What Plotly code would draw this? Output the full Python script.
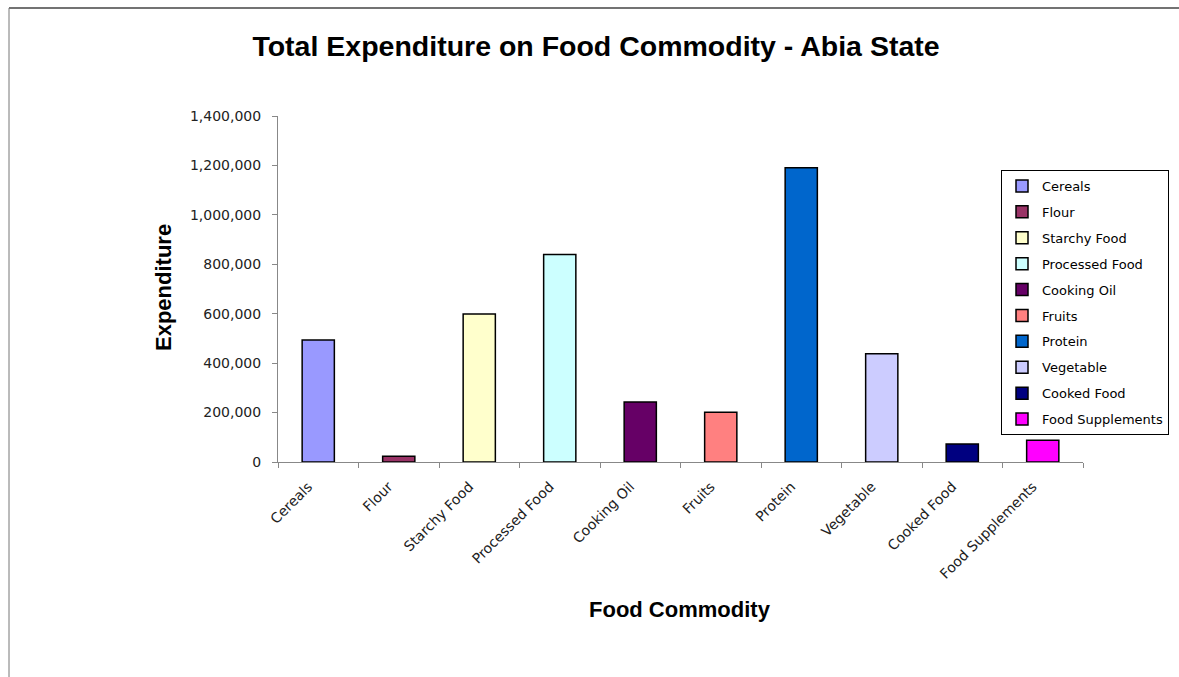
import plotly.graph_objects as go

# Food commodity expenditure, Abia State
categories = ["Cereals", "Flour", "Starchy Food", "Processed Food", "Cooking Oil",
              "Fruits", "Protein", "Vegetable", "Cooked Food", "Food Supplements"]
expenditure = [494000, 23000, 599000, 840000, 243000,
               201000, 1191000, 438000, 73000, 88000]
bar_colors = ["#9999FF", "#993366", "#FFFFCC", "#CCFFFF", "#660066",
              "#FF8080", "#0066CC", "#CCCCFF", "#000080", "#FF00FF"]
y_ticks = [0, 200000, 400000, 600000, 800000, 1000000, 1200000, 1400000]

W, H = 1179, 677
L, R, T, B = 278, 96, 116, 215
pw, ph = W - L - R, H - T - B


def px_x(x):
    return (x - L) / pw


def px_y(y):
    return (H - B - y) / ph


fig = go.Figure()
for i, (cat, val, col) in enumerate(zip(categories, expenditure, bar_colors)):
    fig.add_trace(go.Bar(
        x=[cat], y=[val], name=cat, width=0.4,
        marker=dict(color=col, line=dict(color="#000000", width=1.5)),
        legendgroup=f"g{i}",
    ))

fig.update_layout(
    width=W, height=H,
    margin=dict(l=L, r=R, t=T, b=B, autoexpand=False),
    paper_bgcolor="white", plot_bgcolor="white",
    barmode="overlay",
    showlegend=True,
    title=dict(
        text="<b>Total Expenditure on Food Commodity - Abia State</b>",
        font=dict(family="Liberation Sans", size=28.5, color="#000000"),
        x=596 / W, xref="container", xanchor="center",
        y=1 - 46 / H, yref="container", yanchor="middle",
    ),
    xaxis=dict(
        type="category", categoryorder="array", categoryarray=categories,
        range=[-0.5, 9.5], showline=True, linecolor="#888888", linewidth=1,
        ticks="outside", tickson="boundaries", ticklen=5, tickcolor="#888888",
        tickangle=-45, ticklabelstandoff=10, ticklabelshift=-10,
        tickfont=dict(family="DejaVu Sans", size=14, color="#222222"),
        showgrid=False, zeroline=False, automargin=False,
    ),
    yaxis=dict(
        range=[0, 1400000], tickvals=y_ticks, tickformat=",",
        showline=True, linecolor="#888888", linewidth=1,
        ticks="outside", ticklen=5, tickcolor="#888888", ticklabelstandoff=8,
        tickfont=dict(family="DejaVu Sans", size=14, color="#222222"),
        showgrid=False, zeroline=False, automargin=False,
    ),
    legend=dict(
        x=px_x(1001), xanchor="left", y=px_y(170), yanchor="top",
        bordercolor="#000000", borderwidth=1, bgcolor="white",
        font=dict(family="DejaVu Sans", size=13, color="#000000"),
        traceorder="grouped", tracegroupgap=6,
    ),
    annotations=[
        dict(text="<b>Expenditure</b>", x=px_x(163), y=px_y(288),
             xref="paper", yref="paper", xanchor="center", yanchor="middle",
             showarrow=False, textangle=-90,
             font=dict(family="Liberation Sans", size=22, color="#000000")),
        dict(text="<b>Food Commodity</b>", x=px_x(680), y=px_y(609),
             xref="paper", yref="paper", xanchor="center", yanchor="middle",
             showarrow=False,
             font=dict(family="Liberation Sans", size=22, color="#000000")),
    ],
    shapes=[
        dict(type="line", xref="paper", yref="paper",
             x0=px_x(9), x1=px_x(W + 5), y0=px_y(8), y1=px_y(8),
             line=dict(color="#444444", width=1.5)),
        dict(type="line", xref="paper", yref="paper",
             x0=px_x(9), x1=px_x(9), y0=px_y(8), y1=px_y(H + 5),
             line=dict(color="#777777", width=1)),
    ],
)

fig.write_html("out.html")
